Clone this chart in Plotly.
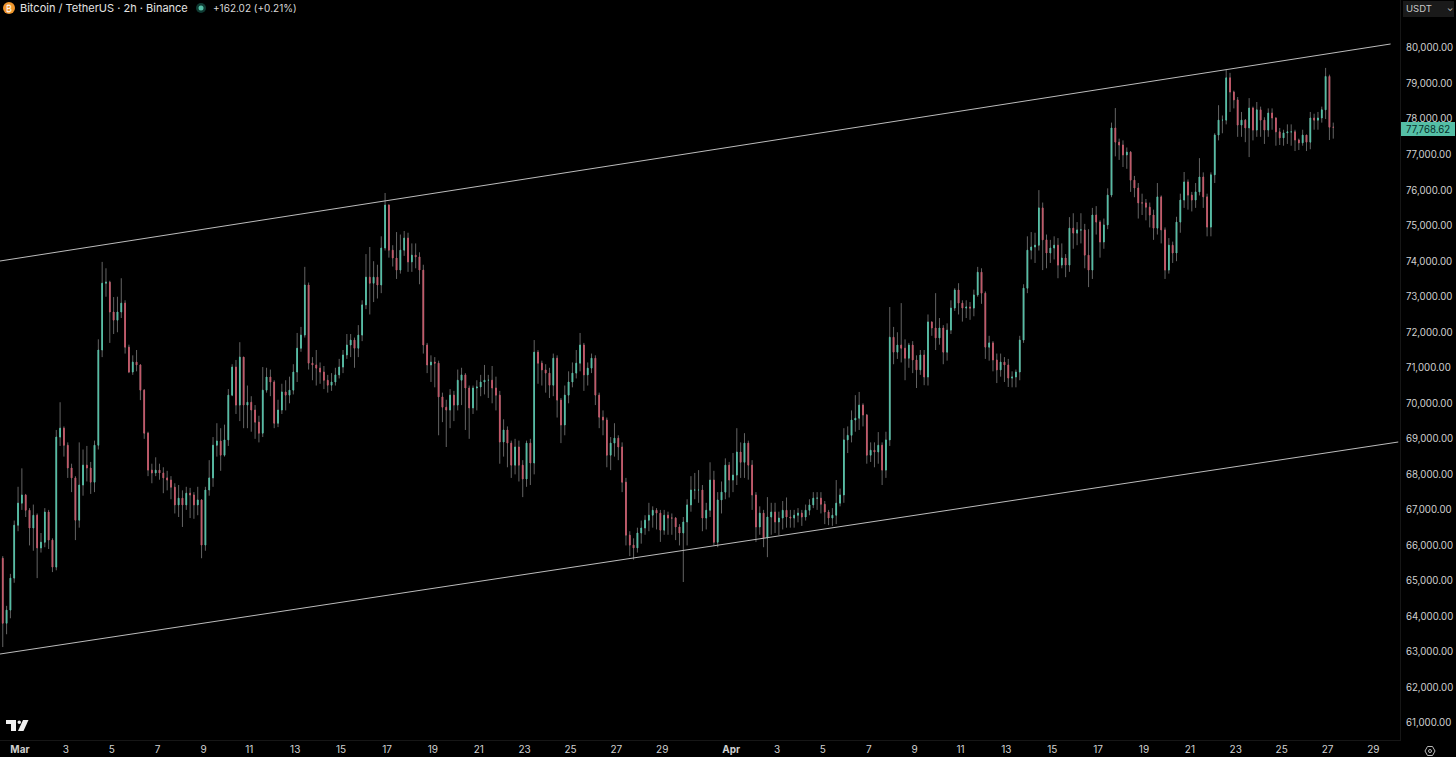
"""
plot.py

BTC/USDT 4h-sampled candles with two channel lines, dark terminal look
"""

import pandas as pd
import plotly.graph_objects as go

CHART_W = 1400
CHART_H = 740

FIRST_OPEN = 65800

closes = [
    65640,63810,64180,65080,66570,67190,67420,66990,66490,66850,
    65930,66090,66940,66150,65390,69050,69300,68820,68180,67900,
    66710,67700,68260,68180,67780,68820,71500,73380,73410,72570,
    72340,72570,72820,71580,70880,71160,71080,70370,69160,68120,
    68040,68120,68040,67900,67840,67640,67140,67330,67140,67470,
    67420,67140,67280,66010,67560,67900,68820,68940,68540,68970,
    70230,71020,69950,71300,69950,70030,69810,69470,69160,70370,
    70740,70600,69440,69810,70320,70230,70370,70880,71550,71920,
    73330,71130,71080,70990,70880,70650,70510,70600,70800,71020,
    71360,71640,71780,71550,71920,72770,73550,73380,73550,73330,
    74370,75580,74310,74090,73750,74310,74650,73980,74170,74120,
    73750,71640,71080,71160,71130,70180,69890,69810,70230,69950,
    70650,70800,70430,69870,70430,70460,70600,70650,70650,70430,
    70230,68910,69250,68880,68260,68770,68260,67870,68880,68320,
    71440,71130,70940,70850,70510,71270,70090,69390,70230,70600,
    70850,71130,71640,70800,70990,71270,70230,69610,69530,68540,
    68880,69020,68770,67780,66290,66010,65930,66350,66490,66710,
    66850,66990,66910,66430,66850,66770,66770,66520,66350,66660,
    67140,67560,67560,67560,66770,66990,67840,66090,67280,67500,
    68260,67840,67980,68630,68340,68880,68260,67420,66520,66910,
    66210,66800,66940,66660,66770,66990,66800,66770,66850,66910,
    66800,66990,67140,67330,67330,67160,66940,66770,66850,67190,
    67420,68970,69100,69530,69580,69950,69670,68540,68680,68630,
    68820,68120,68970,71860,71440,71640,71550,71270,71640,71220,
    70940,71360,70740,72290,72120,71840,72120,71440,72060,72680,
    73190,72820,72680,72710,72680,73050,73690,73100,71580,71700,
    71220,70940,71160,71080,70710,70740,70880,71780,73240,74310,
    74400,74450,75500,74600,74230,74370,74450,73890,74090,73890,
    74930,74790,74880,74880,74170,73750,75300,75100,74540,75020,
    75860,77750,77350,77270,76990,77070,76280,76060,75640,75640,
    75520,75300,74930,75810,74880,73750,74450,74230,75100,75720,
    76230,75860,75720,75950,76370,75810,74960,76430,77550,77970,
    77970,79160,78760,78540,77830,77970,77750,78310,77690,78260,
    77970,77690,78170,78030,77640,77470,77610,77640,77640,77410,
    77330,77550,77350,78030,77970,78030,78260,79200,77770,77768,
]

highs = [
    65900,65700,64300,65200,66700,67650,68170,67450,67050,67150,
    66900,66350,67050,67000,66200,69250,70030,69350,68900,68300,
    67950,68900,68700,68800,68350,68950,71800,73980,73800,73450,
    72990,73000,73520,72900,71650,71350,71500,71100,70400,69200,
    68300,68480,68300,68200,68100,67950,67750,67700,67550,67650,
    67620,67500,67650,67300,67650,68400,69050,69440,69300,69400,
    70400,71100,71220,71720,70300,70500,70200,69950,69650,71020,
    71000,70950,70650,70100,70550,70650,70750,71100,71980,72150,
    73840,73400,71300,71500,71150,71050,70800,70850,71000,71250,
    71500,71950,71950,71850,72200,72900,74200,74400,74000,73900,
    74700,75920,75600,74450,74820,74750,74850,74800,74500,74500,
    74250,73900,71700,71350,71300,71200,70300,70100,70400,70350,
    70950,71000,70850,70500,70500,70650,70800,71080,70800,71050,
    70750,70350,69550,69350,68950,69000,68950,68400,68950,69000,
    71780,71500,71200,71100,71000,71400,71350,70150,70500,70900,
    71150,71500,71980,71700,71150,71400,71350,70300,69800,69600,
    69050,69440,69100,68900,67900,66400,66200,66500,66700,66850,
    67200,67100,67050,67000,67000,66950,66900,66800,66600,66800,
    67300,67950,68040,68120,67700,67200,68340,68100,67500,67800,
    68450,68350,68600,69300,68900,69160,68950,68400,67500,67100,
    67000,67360,67200,67200,66950,67250,67350,67000,67000,67050,
    67000,67150,67300,67500,67500,67500,67250,67000,67050,67840,
    67600,69300,69350,69800,70230,70320,70000,69700,68900,68900,
    69190,68900,69200,72710,72150,72000,72820,71800,71700,71750,
    71350,71500,71500,72500,72300,73100,72400,72200,72250,72900,
    73240,73380,72900,72900,72850,73200,73840,73800,73150,71900,
    71750,71400,71400,71300,71250,70900,70950,71900,73350,74700,
    74820,74800,76000,75650,74750,74600,74700,74650,74500,74200,
    75240,75350,75100,75350,75050,74900,75500,75550,75150,75200,
    76050,77900,78310,77450,77400,77200,77100,76400,76200,75900,
    75750,75650,75450,76200,75850,74950,74650,74550,75250,75900,
    76510,76300,75950,76200,76900,76500,75900,76500,77600,78390,
    78100,79380,79300,78800,78620,78200,78000,78590,78350,78480,
    78350,78050,78300,78300,78050,77750,77700,77850,77850,77700,
    77450,77700,77550,78200,78150,78200,78350,79440,79250,77900,
]

lows = [
    65500,63140,63500,63950,64950,66400,67000,66800,66000,65850,
    65080,65800,65950,65900,65250,65300,68800,68500,67900,67500,
    66150,66500,67400,67800,67450,67500,68700,71300,73000,71700,
    71950,72000,72400,71400,70850,70800,70900,70090,69000,67950,
    67750,67950,67850,67470,67550,67300,66900,66800,66520,67000,
    66770,66750,66850,65640,65850,67400,67650,68500,68100,68500,
    68800,70200,69700,69500,69300,69300,69200,69000,68900,69050,
    70300,70200,69300,69330,69700,69800,70000,70250,70600,71450,
    71850,70950,70650,70500,70550,70400,70300,70350,70500,70700,
    70850,71250,71300,71000,71300,71750,72650,72500,72850,72950,
    73100,74300,74100,73850,73500,73650,74150,73700,73700,73800,
    73350,71400,70850,70600,70450,69100,69470,68770,69300,69500,
    69800,69950,69250,69000,69700,69800,70200,70250,70150,70000,
    69800,68300,68500,68200,67900,68000,67800,67360,67650,67700,
    68000,70550,70500,70300,70150,70200,69600,68880,69100,70000,
    70450,70700,70900,70350,70500,70850,69950,69300,69100,68200,
    68120,68500,68400,67500,66000,65700,65600,65800,66050,66300,
    66400,66500,66450,66100,66300,66300,66300,66150,66000,64970,
    66000,66950,67300,67200,66400,66450,66800,66000,65950,66900,
    67300,67350,67500,67700,67900,67900,67850,67000,66100,66300,
    65950,65670,66300,66350,66290,66450,66500,66500,66500,66650,
    66550,66700,66850,67050,67000,66900,66600,66570,66550,66600,
    67100,67200,68600,68900,69200,69250,69350,68300,68350,68200,
    68300,67700,67900,68800,71100,71250,71150,70650,71000,70850,
    70430,70800,70510,70500,71900,71500,71650,71100,71200,71950,
    72600,72500,72300,72400,72350,72450,73000,72800,71250,71200,
    70900,70570,70750,70600,70460,70450,70450,70650,71700,73100,
    74050,73950,74300,73750,73800,73950,74050,73520,73800,73550,
    73700,74350,74450,74500,73800,73270,73500,74750,74100,74350,
    74900,75800,76950,76850,76650,76600,75950,75800,75200,75300,
    75150,74950,74600,74750,74500,73500,73650,73950,74000,74800,
    75500,75450,75400,75500,75850,75500,74700,74700,76200,77400,
    77600,77850,78200,78300,77500,77500,77350,76930,77400,77500,
    77500,77300,77500,77700,77250,77270,77250,77300,77250,77100,
    77130,77250,77100,77150,77700,77700,77900,78000,77410,77450,
]

upper_dates = ["2026-02-28 03:07", "2026-04-29 18:00"]
upper_prices = [74005, 80113]
lower_dates = ["2026-02-28 03:07", "2026-04-30 02:00"]
lower_prices = [62944, 68911]

tick_dates = ["2026-03-01"] + ["2026-03-%02d" % d for d in range(3, 30, 2)] + \
             ["2026-04-01"] + ["2026-04-%02d" % d for d in range(3, 30, 2)]
tick_labels = ["<b>Mar</b>"] + [str(d) for d in range(3, 30, 2)] + \
              ["<b>Apr</b>"] + [str(d) for d in range(3, 30, 2)]

price_ticks = list(range(61000, 81000, 1000))

LAST_PRICE = 77768.62

TEAL = "#55bfa6"
RED = "#c4596a"
WICK = "#636363"
TEXT = "#d0d0d0"
FONT = "Inter, Roboto, sans-serif"


def px(x):
    return x / CHART_W


def py(y):
    return 1 - y / CHART_H


def poly(points):
    return "M " + " L ".join("%f %f" % (px(x), py(y)) for x, y in points) + " Z"


def label(x, y, text, size=11, color=TEXT, anchor="left", **kw):
    return dict(xref="paper", yref="paper", x=px(x), y=py(y), text=text, showarrow=False,
                xanchor=anchor, yanchor="middle", font=dict(family=FONT, size=size, color=color), **kw)


dates = pd.date_range("2026-02-28 02:00", periods=len(closes), freq="4h")
opens = [FIRST_OPEN] + closes[:-1]
body_hi = [max(o, c) for o, c in zip(opens, closes)]
body_lo = [min(o, c) for o, c in zip(opens, closes)]

fig = go.Figure()

# wicks first, coloured bodies drawn over them
fig.add_trace(go.Candlestick(
    x=dates, open=opens, high=highs, low=lows, close=closes,
    increasing=dict(line=dict(color=WICK, width=1), fillcolor=WICK),
    decreasing=dict(line=dict(color=WICK, width=1), fillcolor=WICK),
    whiskerwidth=0, showlegend=False, hoverinfo="skip",
))
fig.add_trace(go.Candlestick(
    x=dates, open=opens, high=body_hi, low=body_lo, close=closes,
    increasing=dict(line=dict(color=TEAL, width=1), fillcolor=TEAL),
    decreasing=dict(line=dict(color=RED, width=1), fillcolor=RED),
    whiskerwidth=0, showlegend=False, hoverinfo="skip",
))

for xs, ys in [(upper_dates, upper_prices), (lower_dates, lower_prices)]:
    fig.add_trace(go.Scatter(x=xs, y=ys, mode="lines", showlegend=False, hoverinfo="skip",
                             line=dict(color="#bcbcbc", width=1)))

shapes = [
    # bitcoin badge
    dict(type="circle", xref="paper", yref="paper", x0=px(3), x1=px(15), y0=py(14), y1=py(2),
         fillcolor="#f0962e", line=dict(width=0)),
    # market status dot
    dict(type="circle", xref="paper", yref="paper", x0=px(196), x1=px(206), y0=py(13), y1=py(3),
         fillcolor="#0f3a32", line=dict(width=0)),
    dict(type="circle", xref="paper", yref="paper", x0=px(198.5), x1=px(203.5), y0=py(10.5), y1=py(5.5),
         fillcolor=TEAL, line=dict(width=0)),
    # currency box
    dict(type="rect", xref="paper", yref="paper", x0=px(1403), x1=px(1454), y0=py(17), y1=py(1),
         fillcolor="#1a1a1a", line=dict(width=0)),
    # last price tag
    dict(type="rect", xref="paper", yref="paper", x0=px(1401), x1=px(1455), y0=py(136), y1=py(122),
         fillcolor=TEAL, line=dict(width=0)),
    # tradingview mark
    dict(type="path", xref="paper", yref="paper", fillcolor="#f0f0f0", line=dict(width=0),
         path=poly([(6, 720), (16, 720), (16, 731), (11, 731), (11, 724), (6, 724)])),
    dict(type="circle", xref="paper", yref="paper", x0=px(17.5), x1=px(21), y0=py(724), y1=py(720.5),
         fillcolor="#f0f0f0", line=dict(width=0)),
    dict(type="path", xref="paper", yref="paper", fillcolor="#f0f0f0", line=dict(width=0),
         path=poly([(23, 720), (28.5, 720), (23.5, 731), (18, 731)])),
    # settings gear
    dict(type="path", xref="paper", yref="paper", fillcolor="rgba(0,0,0,0)", line=dict(color="#b8b8b8", width=1),
         path=poly([(1425, 751), (1427.5, 746.5), (1432.5, 746.5), (1435, 751), (1432.5, 755.5), (1427.5, 755.5)])),
    dict(type="circle", xref="paper", yref="paper", x0=px(1428.5), x1=px(1431.5), y0=py(752.5), y1=py(749.5),
         line=dict(color="#b8b8b8", width=1)),
]

annotations = [
    label(9, 8, "₿", size=9, color="#ffffff", anchor="center"),
    label(18, 8, "Bitcoin / TetherUS · 2h · Binance", size=11, color="#e4e4e4"),
    label(211, 8, "+162.02 (+0.21%)", size=10, color="#d8d8d8"),
    label(1404, 9, "USDT", size=9.5, color="#c8c8c8"),
    label(1450, 8, "⌄", size=8, color="#c8c8c8", anchor="center"),
    label(1428, 129, "{:,.2f}".format(LAST_PRICE), size=9.7, color="#07302a", anchor="center"),
]

fig.update_layout(
    width=1456, height=757, autosize=False,
    margin=dict(l=0, r=56, t=0, b=17),
    paper_bgcolor="#000000", plot_bgcolor="#000000",
    font=dict(family=FONT, size=10, color=TEXT),
    showlegend=False, hovermode=False, boxgap=0.75,
    xaxis=dict(
        type="date", range=["2026-02-28 03:07", "2026-04-30 03:50"],
        rangeslider=dict(visible=False), showgrid=False, zeroline=False,
        tickmode="array", tickvals=tick_dates, ticktext=tick_labels, ticks="",
        showline=True, linecolor="#161616", linewidth=1, tickfont=dict(size=10, color=TEXT),
    ),
    yaxis=dict(
        side="right", range=[60524, 81351], showgrid=False, zeroline=False,
        tickmode="array", tickvals=price_ticks, ticklabelstandoff=3,
        ticktext=["{:,.2f}".format(p) for p in price_ticks], ticks="",
        showline=True, linecolor="#161616", linewidth=1, tickfont=dict(size=9.7, color=TEXT),
    ),
    shapes=shapes,
    annotations=annotations,
)

fig.write_html("out.html", config={"displayModeBar": False},
               post_script="document.body.style.margin='0';document.body.style.background='#000';")
